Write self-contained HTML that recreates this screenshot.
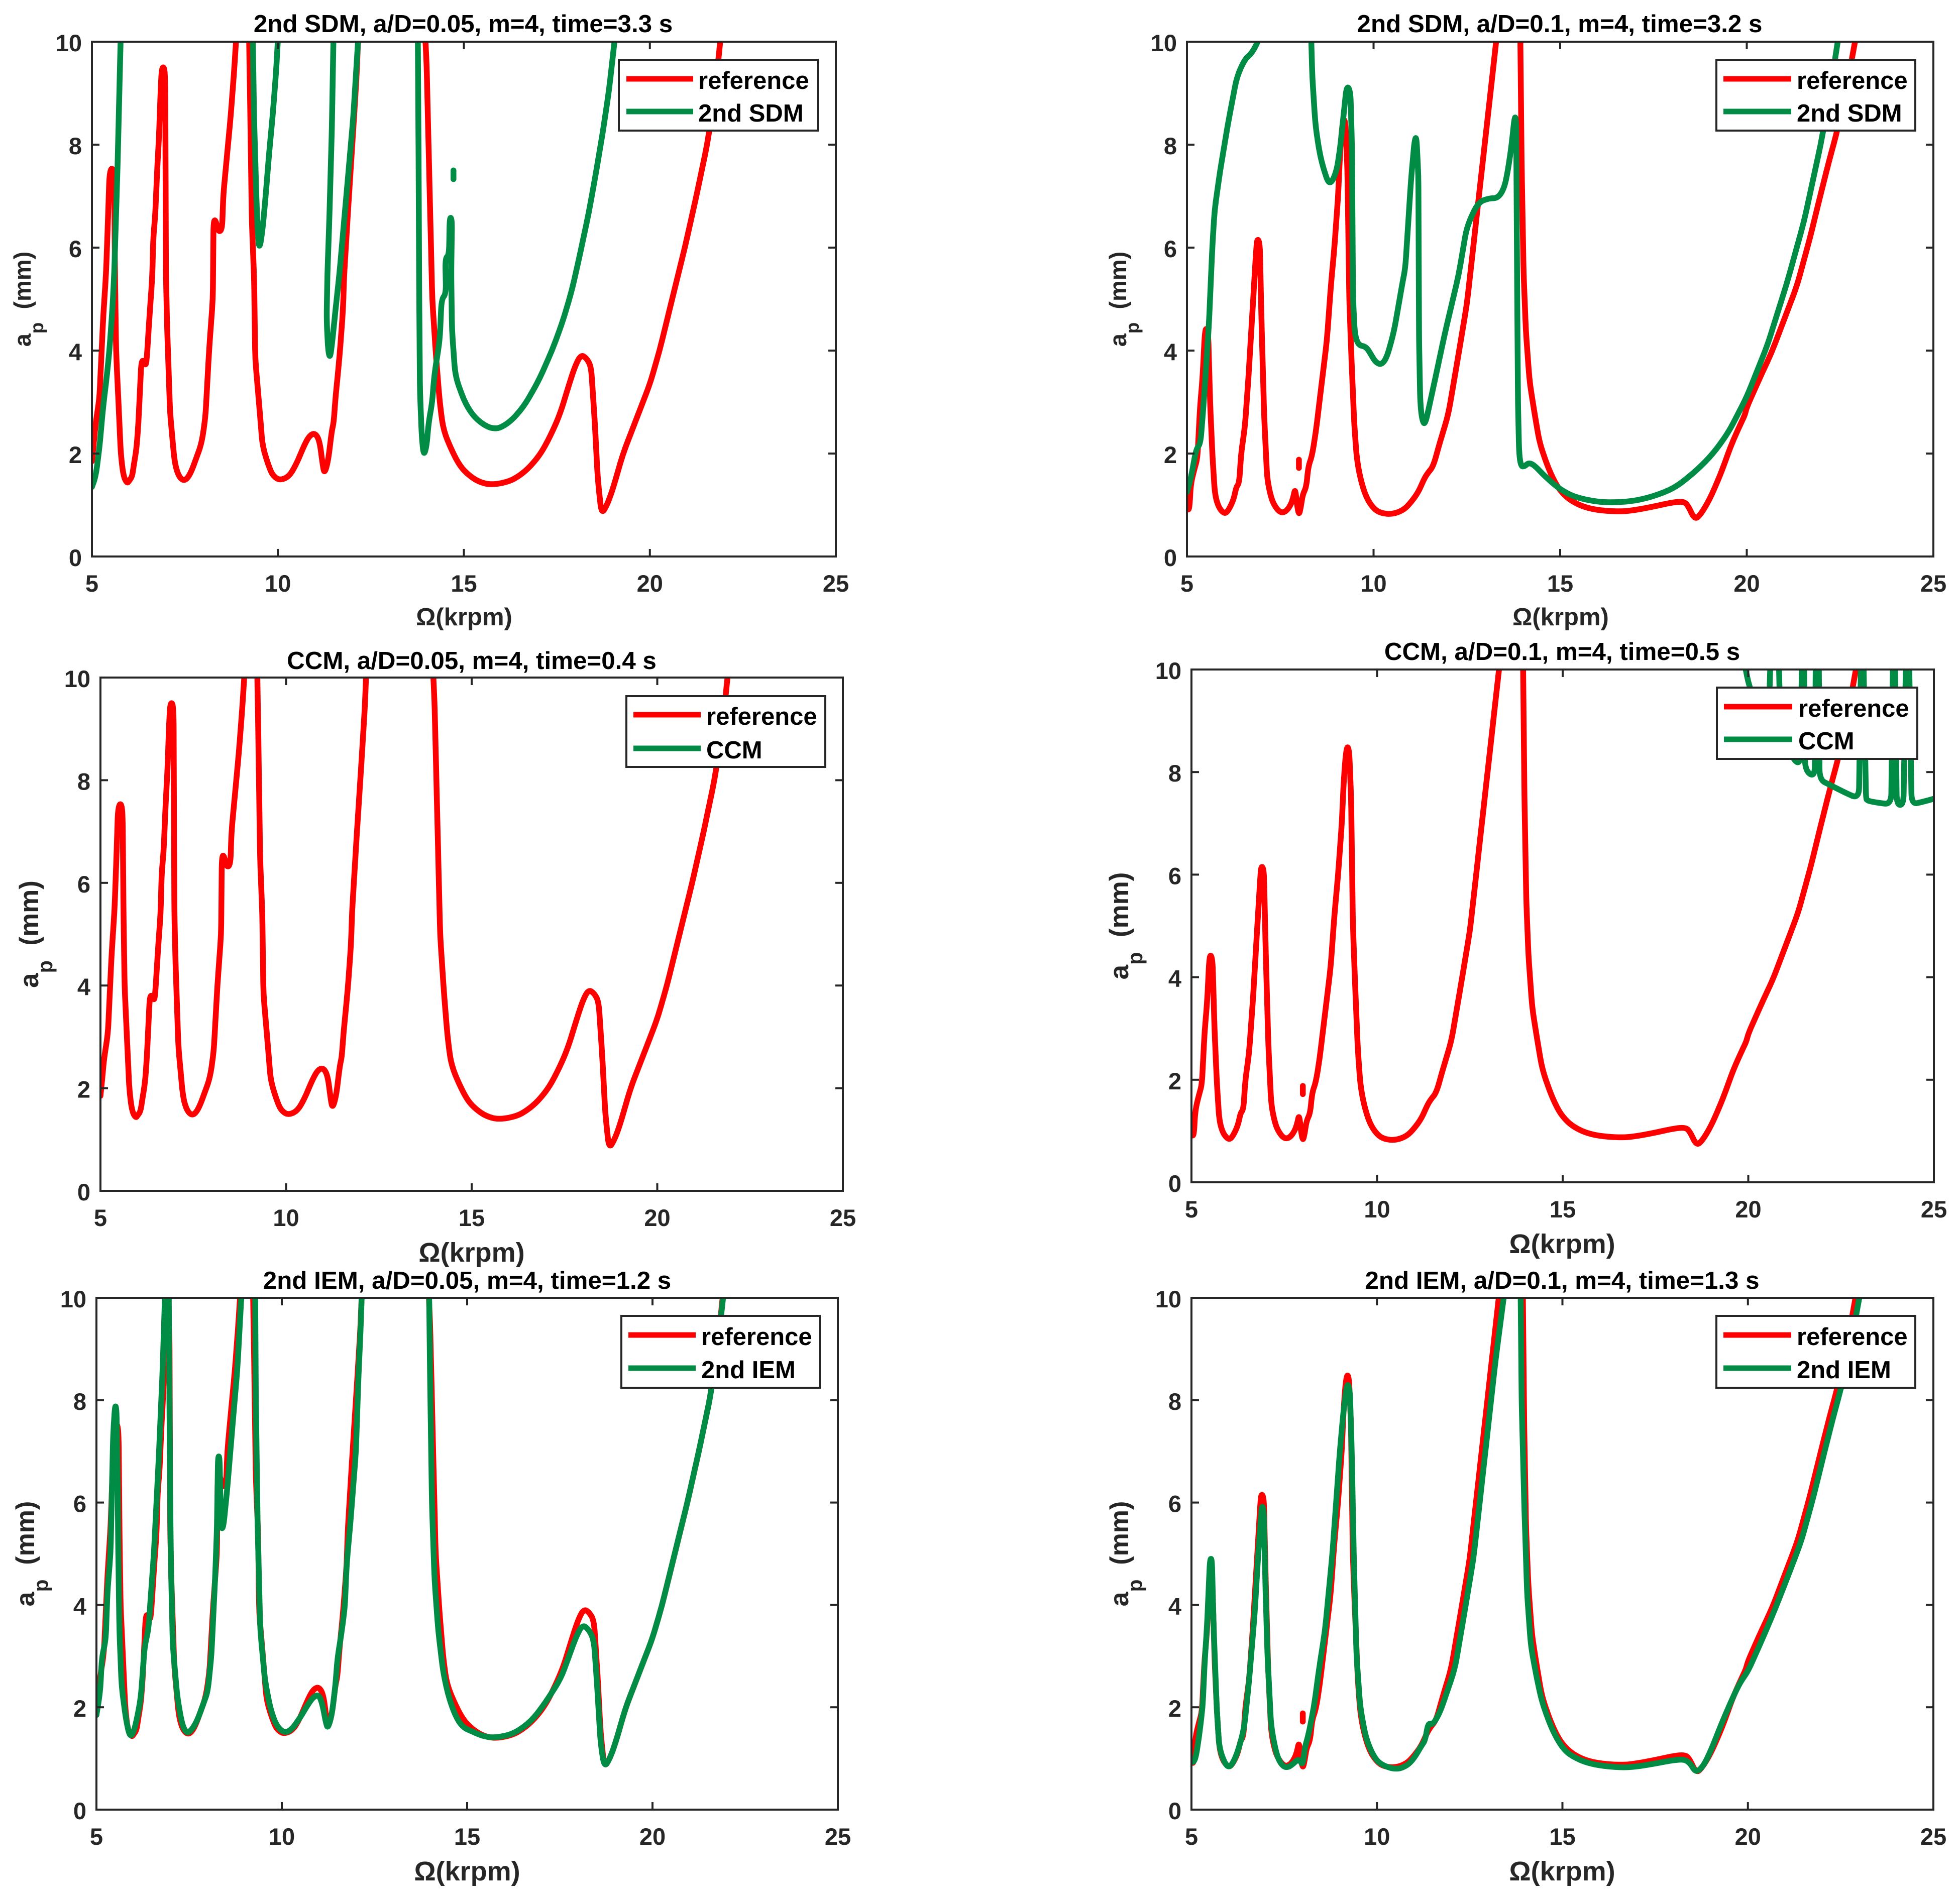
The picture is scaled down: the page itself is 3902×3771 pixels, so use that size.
<!DOCTYPE html>
<html lang="en">
<head>
<meta charset="utf-8">
<title>Stability lobe comparison charts</title>
<style>
html,body{margin:0;padding:0;background:#fff;}
svg{display:block;}
text{font-family:"Liberation Sans",Arial,sans-serif;font-weight:bold;}
</style>
</head>
<body>
<svg id="figure" xmlns="http://www.w3.org/2000/svg" width="3902" height="3771" viewBox="0 0 3902 3771">
<rect width="3902" height="3771" fill="#ffffff"/>
</svg>
<script>
const xTicks = [5, 10, 15, 20, 25];
const yTicks = [0, 2, 4, 6, 8, 10];

// reference, a/D = 0.05
const refLowX = [
5,5.05,5.1,5.2,5.3,5.38,5.43,5.47,5.52,5.58,
5.6,5.62,5.65,5.7,5.78,5.85,5.95,6,6.08,6.12,
6.2,6.25,6.33,6.4,6.45,6.48,6.55,6.62,6.65,6.7,
6.76,6.8,6.85,6.88,6.95,6.97,6.98,6.99,7.02,7.1,
7.15,7.22,7.3,7.4,7.5,7.6,7.7,7.8,7.95,8.05,
8.15,8.25,8.27,8.32,8.4,8.5,8.53,8.62,8.73,8.82,
8.9,9.22,9.25,9.27,9.3,9.36,9.39,9.51,9.59,9.8,
9.9,10.05,10.3,10.5,10.7,10.85,11,11.12,11.2,11.25,
11.35,11.45,11.5,11.55,11.62,11.68,11.75,11.78,11.91,12.05,
12.12,12.17,13.95,14,14.05,14.1,14.15,14.25,14.35,14.45,
14.68,14.9,15.13,15.4,15.73,16.2,16.5,16.79,17.1,17.39,
17.6,17.84,18,18.15,18.3,18.42,18.52,18.6,18.7,18.85,
19,19.28,19.6,20,20.26,20.6,20.94,21.25,21.54,21.75,
21.92
];
const refLowY = [
1.85,2.2,2.6,3.05,4.6,5.5,6.5,7.4,7.55,7.5,
7.2,5.5,4,3.2,1.95,1.55,1.42,1.47,1.55,1.75,
2.1,2.6,3.8,3.8,3.7,3.9,4.7,5.4,6.2,6.6,
7.6,8.1,9.1,9.5,9.5,9.2,7.5,5.5,4.5,2.8,
2.4,1.85,1.62,1.5,1.48,1.55,1.7,1.9,2.2,2.7,
4,5,6.5,6.55,6.3,6.35,7,7.7,8.55,9.4,
10.3,10.3,9,8,6.5,5.4,3.84,2.83,2.12,1.66,
1.55,1.48,1.55,1.8,2.15,2.35,2.4,2.25,1.8,1.6,
1.85,2.45,2.6,3.1,3.6,4.1,4.8,5.46,7,8.57,
9.4,10.3,10.3,9.5,8,6.5,5,3.9,3,2.45,
2.05,1.75,1.58,1.45,1.39,1.45,1.57,1.75,2.03,2.44,
2.8,3.37,3.72,3.92,3.85,3.69,2.6,1.5,0.82,1,
1.3,2,2.6,3.35,4,5,6,7,8,9,
10.2
];

// reference, a/D = 0.1 (null starts a new stroke)
const refHighX = [
5,5.03,5.07,5.1,5.2,5.28,5.35,5.42,5.48,5.52,
5.57,5.62,5.68,5.75,5.85,6,6.1,6.25,6.32,6.4,
6.45,6.55,6.65,6.75,6.85,6.88,6.95,7,7.07,7.15,
7.25,7.35,7.5,7.65,7.78,7.85,7.9,7.95,8,8.05,
8.1,8.2,8.25,8.35,8.45,8.6,8.75,8.85,8.95,9.05,
9.1,9.15,9.2,9.25,9.3,9.35,9.4,9.48,9.55,9.65,
9.8,10,10.2,10.5,10.8,11,11.2,11.35,11.45,11.6,
11.75,12,12.27,12.5,12.72,12.9,13.1,13.33,13.93,13.97,
14.02,14.08,14.18,14.31,14.45,14.69,14.9,15.1,15.3,15.6,
16,16.6,17,17.5,18,18.3,18.42,18.6,18.75,19,
19.3,19.6,19.85,19.95,20,20.4,20.66,21,21.34,21.68,
21.95,22.2,22.41,22.7,22.95,null,8,8
];
const refHighY = [
0.95,0.9,0.95,1.4,1.7,1.9,2.9,3.5,4.35,4.45,
4.3,3,2,1.2,0.95,0.83,0.88,1.1,1.35,1.42,
2,2.5,3.5,4.7,5.9,6.18,6.1,4.5,2.7,1.5,
1.15,0.98,0.85,0.87,1,1.15,1.33,1,0.8,0.95,
1.2,1.35,1.75,1.95,2.4,3.3,4.2,5.2,6,7,
7.8,8.3,8.52,8.4,7.5,5,4,2.6,1.9,1.5,
1.15,0.93,0.84,0.82,0.9,1.05,1.25,1.5,1.62,1.75,
2.15,2.75,3.9,4.9,6.33,7.5,8.8,10.3,10.3,7.5,
5.5,4.4,3.4,2.8,2.2,1.7,1.38,1.2,1.08,0.97,
0.9,0.87,0.9,0.97,1.05,1.07,1,0.72,0.8,1.1,
1.6,2.2,2.6,2.75,2.9,3.55,3.95,4.6,5.25,6.15,
6.95,7.67,8.23,9.2,10.2,null,1.72,1.88
];

// 2nd SDM, a/D = 0.05
const sdmLowX = [
5,5.1,5.2,5.3,5.4,5.47,5.55,5.6,5.69,5.78,null,
9.32,9.36,9.42,9.46,9.5,9.58,9.67,9.76,9.86,9.95,10.02,null,
11.5,11.45,11.38,11.33,11.31,11.35,11.4,11.45,11.55,11.65,11.84,12.03,12.18,null,
13.76,13.78,13.8,13.82,13.87,13.92,14,14.05,14.15,14.2,
14.35,14.4,14.52,14.5,14.6,14.62,14.68,14.66,14.68,14.77,
15.04,15.34,15.8,16.2,16.6,17,17.37,17.65,17.9,18.13,
18.35,18.55,18.73,18.9,19.08,null,14.72,14.72
];
const sdmLowY = [
1.35,1.55,2.1,2.9,3.5,4,4.8,5.5,7.6,10.3,null,
10.3,8.5,7,6.3,5.95,6.3,7,7.8,8.57,9.4,10.3,null,
10.3,8.3,6.5,5.46,4.6,4,3.85,4.1,4.8,5.46,7,8.57,10.3,null,
10.3,8,5,3.2,2.3,1.95,2.15,2.6,3,3.5,
4.2,5,5.1,5.8,5.85,6.6,6.55,5.5,4.4,3.5,
2.96,2.65,2.45,2.58,2.9,3.4,4,4.55,5.16,5.9,
6.65,7.45,8.22,9.05,10.2,null,7.33,7.5
];

// 2nd SDM, a/D = 0.1
const sdmHighX = [
5,5.1,5.25,5.36,5.45,5.59,5.68,5.74,5.89,6.11,
6.34,6.56,6.71,6.91,7,null,
8.32,8.36,8.44,8.55,8.67,8.82,9,9.1,9.2,9.28,
9.38,9.42,9.45,9.5,9.6,9.8,9.95,10.05,10.2,10.35,
10.55,10.77,10.85,11,11.1,11.15,11.2,11.22,11.25,11.3,
11.38,11.6,11.9,12.28,12.5,12.8,13.1,13.33,13.5,13.6,
13.7,13.78,13.82,13.85,13.87,13.9,13.95,14.05,14.15,14.3,
14.6,15,15.4,16,16.5,17,17.5,18.07,18.67,19.1,
19.5,20,20.55,21.08,21.53,21.98,22.2,22.36,22.5
];
const sdmHighY = [
1.25,1.5,2.1,2.18,3,4.53,6,6.73,7.5,8.45,
9.33,9.67,9.75,10,10.3,null,
10.3,9.3,8.4,7.85,7.5,7.2,7.45,7.9,8.6,9.15,
9.05,8,5,4.3,4.1,4.08,3.9,3.78,3.72,3.85,
4.38,5.3,5.6,7.28,8.1,8.15,7.4,4.2,3,2.65,
2.55,3.28,4.3,5.47,6.41,6.88,6.96,6.96,7.15,7.5,
8,8.55,8.5,5,3,2,1.75,1.75,1.82,1.78,
1.55,1.3,1.15,1.06,1.05,1.08,1.17,1.33,1.68,2,
2.4,3.1,4.1,5.32,6.5,8,8.9,9.63,10.3
];

// CCM, a/D = 0.05 has no stable curve within the plotted range
const ccmLowX = [];
const ccmLowY = [];

// CCM, a/D = 0.1
const ccmHighX = [
19.85,20.02,20.3,20.55,20.6,20.64,null,
20.82,20.86,21.2,21.4,21.45,21.5,21.53,21.79,21.82,21.87,21.9,21.92,
22.2,22.6,22.98,23.04,23.1,23.17,23.2,23.5,23.85,23.9,
23.95,24,24.18,24.25,24.33,24.4,24.7,25
];
const ccmHighY = [
10.3,9.67,9.2,8.95,10.3,10.3,null,
10.3,9,8.25,8.15,10.3,10.3,8.03,7.9,10.3,10.3,10.3,7.85,
7.75,7.6,7.48,10.3,10.3,7.5,7.44,7.4,7.37,10.3,
10.3,7.36,7.36,10.3,10.3,7.37,7.42,7.48
];

// 2nd IEM, a/D = 0.05
const iemLowX = [
5,5.1,5.15,5.25,5.3,5.38,5.45,5.5,5.54,5.57,
5.59,5.62,5.68,5.8,5.9,6,6.1,6.2,6.3,6.4,
6.5,6.55,6.68,6.78,6.86,6.95,6.97,6.99,7.01,7.06,
7.18,7.3,7.4,7.5,7.7,7.9,8,8.1,8.2,8.25,
8.28,8.32,8.36,8.42,8.52,8.67,8.8,8.93,9.28,9.3,
9.35,9.42,9.55,9.7,9.85,10.05,10.25,10.5,10.7,10.85,
11,11.1,11.2,11.25,11.35,11.45,11.5,11.6,11.7,11.75,
11.85,12,12.07,12.12,12.17,13.97,14,14.05,14.12,14.22,
14.35,14.5,14.7,14.9,15.13,15.4,15.73,16.2,16.5,16.79,
17.1,17.52,17.75,17.95,18.12,18.3,18.42,18.5,18.6,18.7,
18.85,19,19.28,19.6,20,20.26,20.6,20.94,21.25,21.54,
21.75,21.95
];
const iemLowY = [
1.85,2.3,3,3.3,4.3,5,7.3,7.9,7.85,6.5,
5,3.5,2.4,1.75,1.42,1.5,1.8,2.2,3.2,3.5,
4.5,5,6.86,8.5,10.3,10.3,8,6,4.8,3.2,
2.2,1.7,1.52,1.5,1.7,2.1,2.3,3,4.5,5.5,
6.9,6.9,5.5,5.5,6.2,7.5,8.6,10.3,10.3,8,
5.5,3.5,2.5,1.95,1.65,1.5,1.55,1.8,2.05,2.2,
2.25,2.05,1.65,1.6,1.85,2.45,2.95,3.4,3.95,4.8,
5.6,7,8.5,9.3,10.3,10.3,8.5,6,4.5,3.5,
2.7,2.2,1.8,1.6,1.53,1.44,1.4,1.47,1.6,1.78,
2.08,2.55,3,3.4,3.62,3.5,3.3,2.5,1.3,0.82,
1,1.3,2,2.6,3.35,4,5,6,7,8,
9,10.3
];

// 2nd IEM, a/D = 0.1
const iemHighX = [
5,5.1,5.2,5.3,5.35,5.42,5.5,5.55,5.6,5.68,
5.75,5.9,6.02,6.15,6.3,6.42,6.55,6.7,6.8,6.9,
6.95,7,7.05,7.15,7.3,7.45,7.6,7.75,7.9,8,
8.05,8.15,8.3,8.45,8.6,8.8,9,9.1,9.2,9.27,
9.32,9.38,9.45,9.55,9.7,9.9,10.1,10.5,10.8,11,
11.2,11.3,11.38,11.5,11.7,12.1,12.37,12.6,12.82,13,
13.2,13.47,13.87,13.9,13.97,14.05,14.15,14.3,14.45,14.69,
14.9,15.1,15.3,15.6,16,16.6,17,17.5,18,18.3,
18.45,18.6,18.8,19,19.3,19.6,19.8,20,20.4,20.75,
21.1,21.44,21.78,22.05,22.3,22.51,22.8,23.08
];
const iemHighY = [
0.92,0.95,1.4,2,2.8,3.6,4.9,4.9,3.5,2,
1.2,0.9,0.82,0.95,1.25,1.6,2.5,3.8,5,5.98,
5.8,4.2,3,1.6,1.05,0.85,0.82,0.9,1,0.85,
1.2,1.45,2,2.8,3.5,5,7,7.8,8.35,8.2,
7,4.8,3,2,1.4,1.05,0.88,0.78,0.85,1,
1.25,1.35,1.7,1.65,1.9,2.75,3.9,4.9,6.33,7.5,
8.8,10.3,10.3,8,6,4.2,3.2,2.6,2.1,1.62,
1.32,1.13,1.03,0.93,0.86,0.82,0.84,0.9,0.97,0.98,
0.9,0.72,0.85,1.15,1.7,2.2,2.5,2.7,3.35,3.95,
4.6,5.25,6.15,6.95,7.67,8.23,9.2,10.3
];

const RED = '#ff0000';
const GREEN = '#008c45';
const INK = '#262626';
const X_MIN = 5, X_MAX = 25, Y_MIN = 0, Y_MAX = 10;
const CORNER_RADIUS = 22;
const SVG_NS = 'http://www.w3.org/2000/svg';
const figure = document.getElementById('figure');

const panels = [
  {id:'sdm-low', title:'2nd SDM, a/D=0.05, m=4, time=3.3 s', label:'2nd SDM',
   box:[183,1664,83,1108], titleAt:[922,64], xLabelAt:[924,1245,49], yLabelAt:[61,47],
   legend:[1232,1628,119,260,1247,1380,157,222,1390],
   refX:refLowX, refY:refLowY, cmpX:sdmLowX, cmpY:sdmLowY},
  {id:'sdm-high', title:'2nd SDM, a/D=0.1, m=4, time=3.2 s', label:'2nd SDM',
   box:[2363,3849,83,1108], titleAt:[3105,64], xLabelAt:[3107,1245,49], yLabelAt:[2242,47],
   legend:[3417,3813,119,260,3431,3566,157,222,3577],
   refX:refHighX, refY:refHighY, cmpX:sdmHighX, cmpY:sdmHighY},
  {id:'ccm-low', title:'CCM, a/D=0.05, m=4, time=0.4 s', label:'CCM',
   box:[200,1678,1349,2371], titleAt:[939,1332], xLabelAt:[939,2512,54], yLabelAt:[76,53],
   legend:[1247,1643,1386,1527,1261,1395,1423,1490,1406],
   refX:refLowX, refY:refLowY, cmpX:ccmLowX, cmpY:ccmLowY},
  {id:'ccm-high', title:'CCM, a/D=0.1, m=4, time=0.5 s', label:'CCM',
   box:[2372,3850,1333,2354], titleAt:[3110,1314], xLabelAt:[3110,2495,54], yLabelAt:[2246,53],
   legend:[3418,3817,1369,1511,3432,3568,1407,1472,3580],
   refX:refHighX, refY:refHighY, cmpX:ccmHighX, cmpY:ccmHighY},
  {id:'iem-low', title:'2nd IEM, a/D=0.05, m=4, time=1.2 s', label:'2nd IEM',
   box:[192,1668,2584,3603], titleAt:[930,2566], xLabelAt:[930,3744,54], yLabelAt:[68,52],
   legend:[1237,1632,2620,2763,1251,1385,2658,2724,1396],
   refX:refLowX, refY:refLowY, cmpX:iemLowX, cmpY:iemLowY},
  {id:'iem-high', title:'2nd IEM, a/D=0.1, m=4, time=1.3 s', label:'2nd IEM',
   box:[2372,3849,2584,3603], titleAt:[3110,2566], xLabelAt:[3110,3744,54], yLabelAt:[2246,52],
   legend:[3417,3813,2620,2763,3431,3566,2658,2724,3577],
   refX:refHighX, refY:refHighY, cmpX:iemHighX, cmpY:iemHighY}
];

function make(tag, attrs, parent) {
  const el = document.createElementNS(SVG_NS, tag);
  Object.keys(attrs).forEach(function (k) { el.setAttribute(k, attrs[k]); });
  parent.appendChild(el);
  return el;
}
function xAxis(p, v) { return p.box[0] + (v - X_MIN) / (X_MAX - X_MIN) * (p.box[1] - p.box[0]); }
function yAxis(p, v) { return p.box[3] - (v - Y_MIN) / (Y_MAX - Y_MIN) * (p.box[3] - p.box[2]); }
function towards(a, b) {
  const dx = b[0] - a[0], dy = b[1] - a[1];
  const len = Math.sqrt(dx * dx + dy * dy) || 1;
  const r = Math.min(CORNER_RADIUS, len / 2);
  return [a[0] + dx / len * r, a[1] + dy / len * r];
}
function fmt(pt) { return pt[0].toFixed(1) + ' ' + pt[1].toFixed(1); }
function strokeFrom(pts) {
  let d = 'M' + fmt(pts[0]);
  for (let i = 1; i < pts.length - 1; i++) {
    d += 'L' + fmt(towards(pts[i], pts[i - 1]));
    d += 'Q' + fmt(pts[i]) + ' ' + fmt(towards(pts[i], pts[i + 1]));
  }
  if (pts.length > 1) d += 'L' + fmt(pts[pts.length - 1]);
  return d;
}
function tracePath(p, xs, ys) {
  let d = '', run = [];
  for (let i = 0; i < xs.length; i++) {
    if (xs[i] === null || ys[i] === null) {
      if (run.length) d += strokeFrom(run);
      run = [];
      continue;
    }
    run.push([xAxis(p, xs[i]), yAxis(p, ys[i])]);
  }
  if (run.length) d += strokeFrom(run);
  return d;
}

panels.forEach(function (p) {
  const left = p.box[0], right = p.box[1], top = p.box[2], bottom = p.box[3];
  const g = make('g', {}, figure);
  
  

  const clip = make('clipPath', {id:'clip-' + p.id}, g);
  make('rect', {x:left, y:top, width:right-left, height:bottom-top}, clip);

  const plot = make('g', {'clip-path':'url(#clip-' + p.id + ')'}, g);
  
  

  const refLine = make('path', {d:tracePath(p, p.refX, p.refY), fill:'none', stroke:RED, 'stroke-width':11.5, 'stroke-linejoin':'round', 'stroke-linecap':'round'}, plot);
  
  

  const cmpLine = make('path', {d:tracePath(p, p.cmpX, p.cmpY), fill:'none', stroke:GREEN, 'stroke-width':11.5, 'stroke-linejoin':'round', 'stroke-linecap':'round'}, plot);
  
  

  const frame = make('rect', {x:left, y:top, width:right-left, height:bottom-top, fill:'none', stroke:INK, 'stroke-width':4}, g);
  
  

  xTicks.forEach(function (t) {
    const x = xAxis(p, t);
    const tickA = make('line', {x1:x, x2:x, y1:bottom, y2:bottom-15, stroke:INK, 'stroke-width':4}, g);
    
    
    const tickB = make('line', {x1:x, x2:x, y1:top, y2:top+15, stroke:INK, 'stroke-width':4}, g);
    
    
    const lab = make('text', {x:x, y:bottom+70, 'text-anchor':'middle', 'font-size':47, fill:INK}, g);
    lab.textContent = String(t);
    
    
  });

  yTicks.forEach(function (t) {
    const y = yAxis(p, t);
    const tickA = make('line', {x1:left, x2:left+15, y1:y, y2:y, stroke:INK, 'stroke-width':4}, g);
    
    
    const tickB = make('line', {x1:right, x2:right-15, y1:y, y2:y, stroke:INK, 'stroke-width':4}, g);
    
    
    const lab = make('text', {x:left-20, y:y+19, 'text-anchor':'end', 'font-size':47, fill:INK}, g);
    lab.textContent = String(t);
    
    
  });

  const title = make('text', {x:p.titleAt[0], y:p.titleAt[1], 'text-anchor':'middle', 'font-size':49.3, fill:'#000000'}, g);
  title.textContent = p.title;
  
  

  const xTitle = make('text', {x:p.xLabelAt[0], y:p.xLabelAt[1], 'text-anchor':'middle', 'font-size':p.xLabelAt[2], fill:INK}, g);
  xTitle.textContent = 'Ω(krpm)';
  
  

  const yFs = p.yLabelAt[1];
  const yTitle = make('text', {transform:'translate(' + p.yLabelAt[0] + ' ' + ((top+bottom)/2) + ') rotate(-90)', 'text-anchor':'middle', 'font-size':yFs, fill:INK, 'xml:space':'preserve', style:'white-space:pre'}, g);
  
  
  const t1 = make('tspan', {}, yTitle);
  t1.textContent = 'a';
  const t2 = make('tspan', {dy:yFs*0.53, 'font-size':yFs*0.78}, yTitle);
  t2.textContent = 'p';
  const t3 = make('tspan', {dy:-yFs*0.53}, yTitle);
  t3.textContent = '  (mm)';

  const L = p.legend;
  const legend = make('g', {}, g);
  
  
  const box = make('rect', {x:L[0], y:L[2], width:L[1]-L[0], height:L[3]-L[2], fill:'#ffffff', stroke:INK, 'stroke-width':4}, legend);
  
  

  const swatchA = make('line', {x1:L[4], x2:L[5], y1:L[6], y2:L[6], stroke:RED, 'stroke-width':11}, legend);
  
  
  const textA = make('text', {x:L[8], y:L[6]+20, 'font-size':49, fill:'#000000'}, legend);
  textA.textContent = 'reference';
  
  

  const swatchB = make('line', {x1:L[4], x2:L[5], y1:L[7], y2:L[7], stroke:GREEN, 'stroke-width':11}, legend);
  
  
  const textB = make('text', {x:L[8], y:L[7]+20, 'font-size':49, fill:'#000000'}, legend);
  textB.textContent = p.label;
  
  
});
</script>
</body>
</html>
